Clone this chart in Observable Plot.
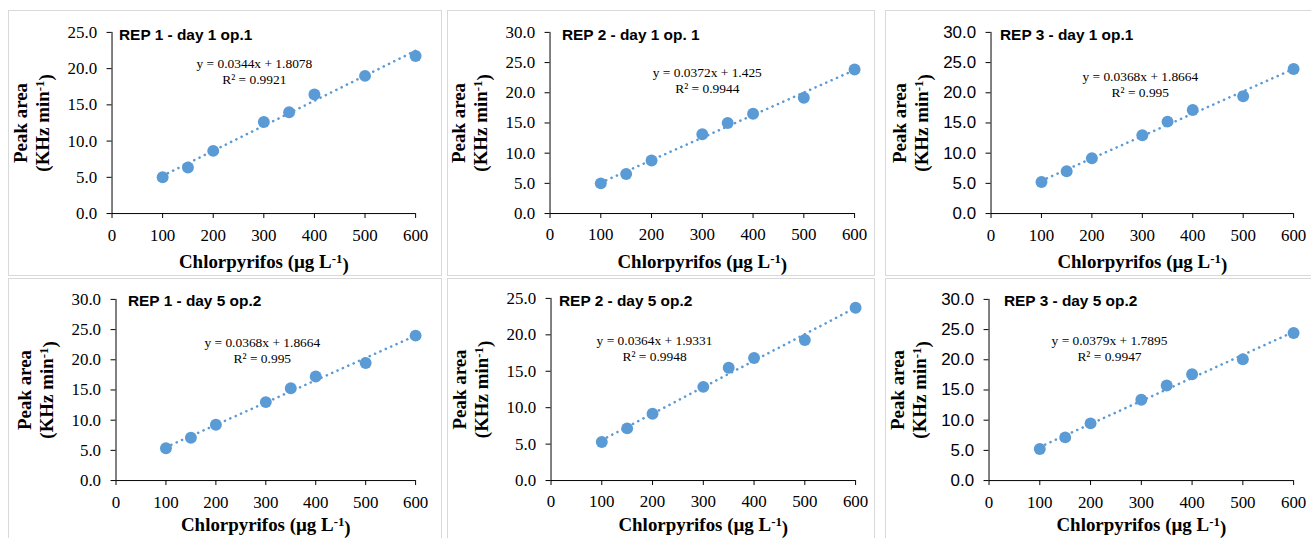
<!DOCTYPE html>
<html>
<head>
<meta charset="utf-8">
<script src="https://cdn.jsdelivr.net/npm/d3@7"></script>
<script src="https://cdn.jsdelivr.net/npm/@observablehq/plot@0.6"></script>
<style>
  html, body { margin: 0; padding: 0; background: #fff; width: 1311px; height: 538px; overflow: hidden; }
  .panel { position: absolute; box-sizing: border-box; border: 1px solid #d9d9d9; background: #fff; }
  .panel svg { position: absolute; left: 0; top: 0; overflow: visible; }
</style>
</head>
<body>
<div id="root"></div>
<script>
// ---------- data ----------
const concentrations = [100, 150, 200, 300, 350, 400, 500, 600];
const titles = [
  "REP 1 - day 1 op.1", "REP 2 - day 1 op. 1", "REP 3 - day 1 op.1",
  "REP 1 - day 5 op.2", "REP 2 - day 5 op.2", "REP 3 - day 5 op.2"
];
const rep1Day1 = [5.0, 6.36, 8.65, 12.64, 13.97, 16.44, 19.0, 21.75];
const rep2Day1 = [5.0, 6.54, 8.79, 13.13, 15.0, 16.54, 19.18, 23.85];
const rep3Day1 = [5.24, 7.0, 9.15, 12.96, 15.22, 17.15, 19.42, 23.94];
const rep1Day5 = [5.34, 7.1, 9.25, 12.99, 15.3, 17.23, 19.48, 24.0];
const rep2Day5 = [5.29, 7.16, 9.17, 12.86, 15.47, 16.83, 19.3, 23.72];
const rep3Day5 = [5.23, 7.15, 9.47, 13.37, 15.74, 17.61, 20.09, 24.44];
const series = [rep1Day1, rep2Day1, rep3Day1, rep1Day5, rep2Day5, rep3Day5];
const equations = [
  "y = 0.0344x + 1.8078", "y = 0.0372x + 1.425", "y = 0.0368x + 1.8664",
  "y = 0.0368x + 1.8664", "y = 0.0364x + 1.9331", "y = 0.0379x + 1.7895"
];
const rSquared = ["R² = 0.9921", "R² = 0.9944", "R² = 0.995", "R² = 0.995", "R² = 0.9948", "R² = 0.9947"];
const yMax = [25, 30, 30, 30, 25, 30];
const xTicks = [0, 100, 200, 300, 400, 500, 600];
const yTicks25 = [0, 5, 10, 15, 20, 25];
const yTicks30 = [0, 5, 10, 15, 20, 25, 30];
const xLabel = "Chlorpyrifos (µg L-1)";
const yLabel1 = "Peak area";
const yLabel2 = "(KHz min-1)";

// ---------- layout (page pixels) ----------
// box: panel border [left, top, right, bottom]; frame: [x0, xEnd, yTop, yBottom]
const layout = [
  {box: [8, 10, 442, 276],   frame: [112, 417, 32, 214],  title: [7, 3],  eq: [143, 38.8], sansY: false, xl: 49},
  {box: [447, 10, 875, 276], frame: [550, 856, 32, 214],  title: [12, 3], eq: [158, 47.7], sansY: false, xl: 49},
  {box: [885, 10, 1320, 276],frame: [991, 1295, 32, 214], title: [9, 3],  eq: [150, 51.8], sansY: true,  xl: 49},
  {box: [8, 278, 442, 560],  frame: [116, 417, 299, 481], title: [12, 2], eq: [147, 50.6], sansY: false, xl: 45},
  {box: [447, 278, 875, 560],frame: [551, 857, 298, 481], title: [8, 3],  eq: [104, 49.5], sansY: false, xl: 45},
  {box: [885, 278, 1320, 560],frame:[989, 1295, 299, 481],title: [15, 2], eq: [121, 48.5], sansY: true,  xl: 45}
];

const blue = "#5B9BD5";
const serif = "'Liberation Serif', 'Times New Roman', serif";
const sans = "'Liberation Sans', Arial, sans-serif";

function superscriptize(svg, marker) {
  d3.select(svg).selectAll("text").each(function() {
    const t = this.textContent;
    if (t === marker) {
      const m = t.match(/^(.*)-1(\)?)$/);
      if (!m) return;
      const sel = d3.select(this);
      sel.text(null);
      sel.append("tspan").text(m[1]);
      sel.append("tspan").attr("dy", "-0.45em").attr("font-size", "0.68em").text("-1");
      sel.append("tspan").attr("dy", "0.45em").text(m[2]);
    }
  });
}

const root = document.getElementById("root");
layout.forEach((L, i) => {
  const [bl, bt, br, bb] = L.box;
  const [fx0, fx1, fy0, fy1] = L.frame;
  const W = br - bl, H = bb - bt;
  const div = document.createElement("div");
  div.className = "panel";
  div.style.left = bl + "px"; div.style.top = bt + "px";
  div.style.width = W + "px"; div.style.height = H + "px";
  root.appendChild(div);

  const data = concentrations.map((c, j) => ({x: c, y: series[i][j]}));
  const yt = yMax[i] === 25 ? yTicks25 : yTicks30;
  const ox = bl + 1, oy = bt + 1;

  const svg = Plot.plot({
    width: W, height: H,
    marginLeft: fx0 - ox,
    marginRight: W - (fx1 - ox),
    marginTop: fy0 - oy,
    marginBottom: H - (fy1 - oy),
    style: {fontFamily: serif, fontSize: "17px", color: "#000", background: "transparent", overflow: "visible"},
    x: {domain: [0, 600]},
    y: {domain: [0, yMax[i]]},
    marks: [
      Plot.axisX({ticks: xTicks, tickSize: 5, tickPadding: 10, label: null, fontSize: 17}),
      Plot.axisY({ticks: yt, tickSize: 5, tickPadding: 10, label: null, tickFormat: d3.format(".1f"), fontSize: 17}),
      Plot.ruleX([0], {stroke: "#000", strokeWidth: 1}),
      Plot.ruleY([0], {stroke: "#000", strokeWidth: 1}),
      Plot.linearRegressionY(data, {x: "x", y: "y", stroke: blue, strokeWidth: 2.6,
                                    strokeDasharray: "0.1 5.8", strokeLinecap: "round", ci: 0}),
      Plot.dot(data, {x: "x", y: "y", r: 6, fill: blue, stroke: "none"}),
      Plot.text([titles[i]], {frameAnchor: "top-left", dx: L.title[0], dy: L.title[1],
                              textAnchor: "start", lineAnchor: "middle",
                              fontFamily: sans, fontWeight: "bold", fontSize: 15.5, fill: "#000"}),
      Plot.text([equations[i] + "\n" + rSquared[i]], {frameAnchor: "top-left", dx: L.eq[0], dy: L.eq[1],
                              textAnchor: "middle", lineAnchor: "middle", lineHeight: 1.18,
                              fontFamily: serif, fontSize: 13.5, fill: "#000"}),
      Plot.text([xLabel], {frameAnchor: "bottom", dy: L.xl, lineAnchor: "middle",
                           fontFamily: serif, fontWeight: "bold", fontSize: 19, fill: "#000"}),
      Plot.text([yLabel1], {frameAnchor: "left", dx: -92, rotate: -90, lineAnchor: "middle", textAnchor: "middle",
                            fontFamily: serif, fontWeight: "bold", fontSize: 19, fill: "#000"}),
      Plot.text([yLabel2], {frameAnchor: "left", dx: -69, rotate: -90, lineAnchor: "middle", textAnchor: "middle",
                            fontFamily: serif, fontWeight: "bold", fontSize: 19, fill: "#000"})
    ]
  });
  d3.select(svg).selectAll('g[aria-label="x-axis tick label"]')
    .attr("font-family", serif).style("font-family", serif);
  d3.select(svg).selectAll('g[aria-label="y-axis tick label"]')
    .attr("font-family", L.sansY ? sans : serif).style("font-family", L.sansY ? sans : serif);
  superscriptize(svg, xLabel);
  superscriptize(svg, yLabel2);
  div.appendChild(svg);
});
</script>
</body>
</html>
